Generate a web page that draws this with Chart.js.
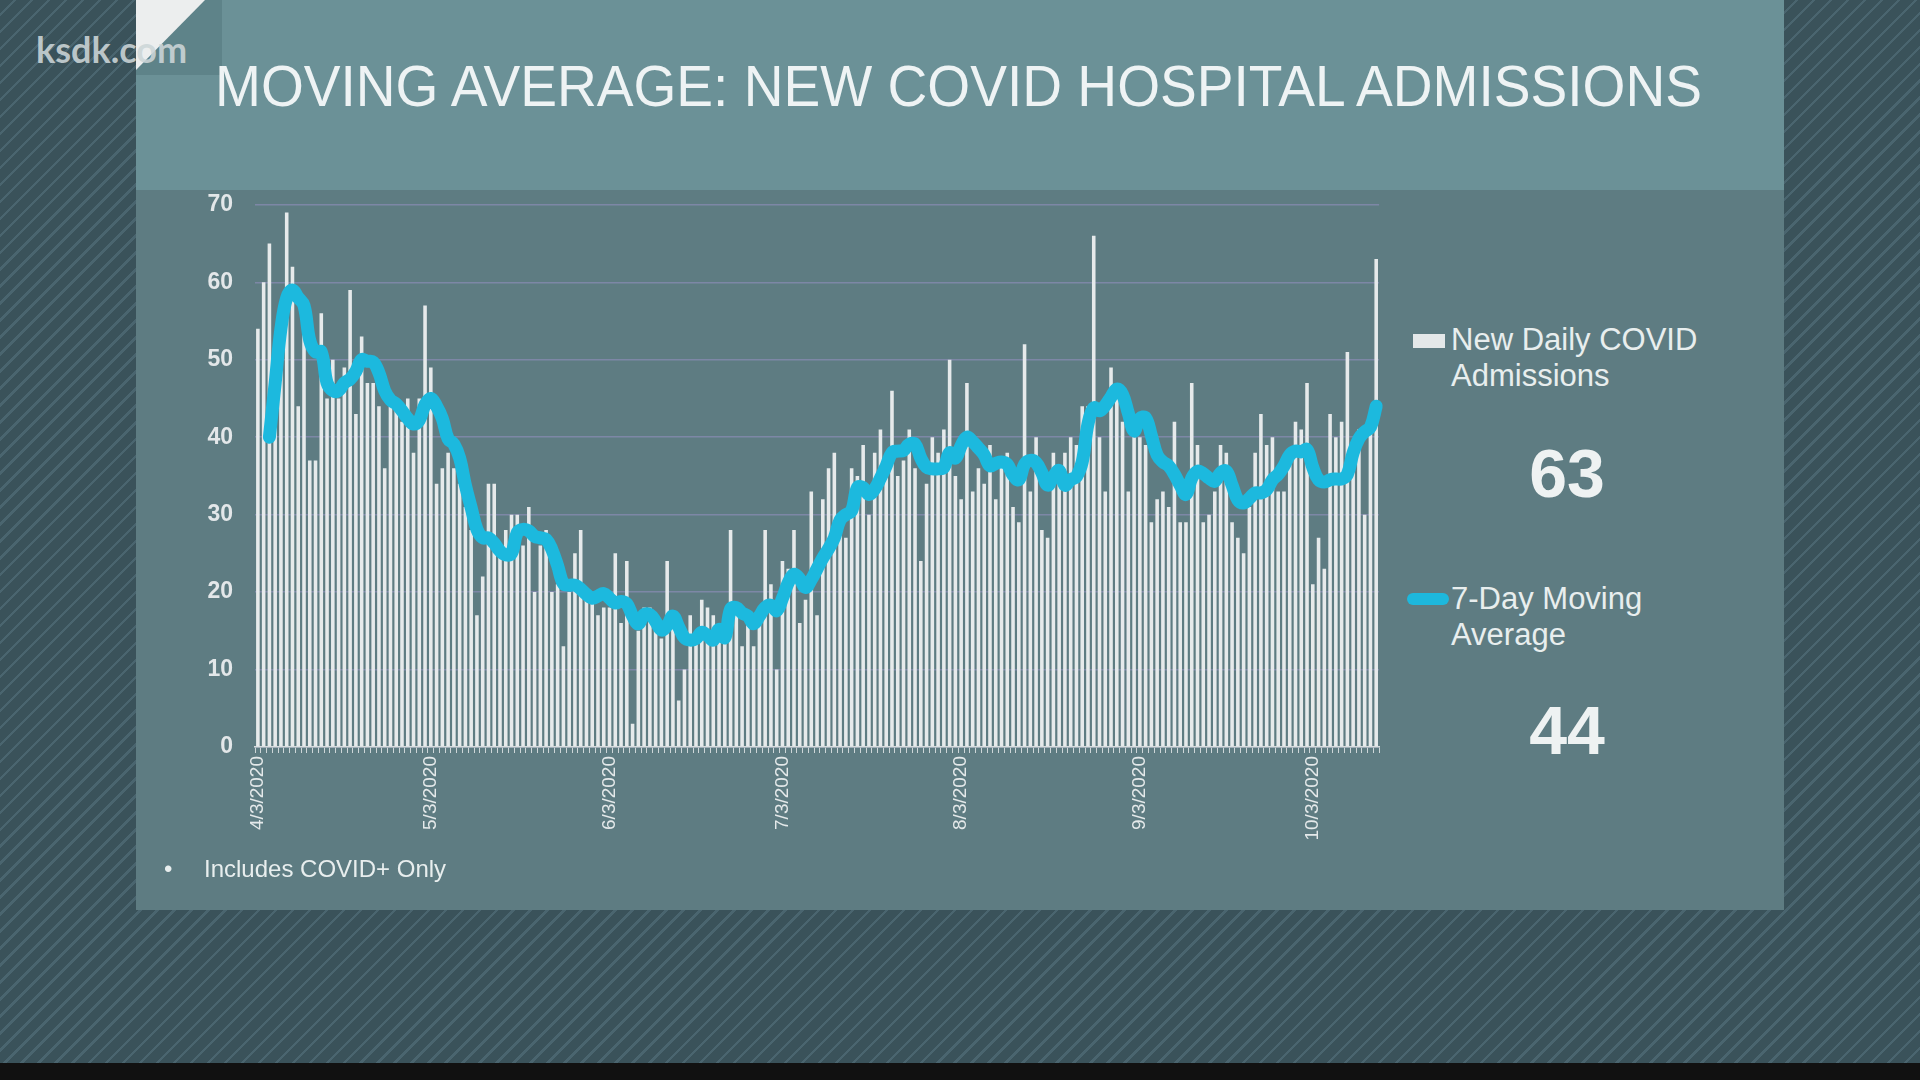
<!DOCTYPE html>
<html>
<head>
<meta charset="utf-8">
<title>Moving Average: New COVID Hospital Admissions</title>
<script src="https://cdn.jsdelivr.net/npm/chart.js@4.4.1/dist/chart.umd.min.js"></script>
<style>
  html, body { margin: 0; padding: 0; }
  body {
    width: 1920px; height: 1080px; overflow: hidden; position: relative;
    font-family: "Liberation Sans", Arial, sans-serif;
    background: repeating-linear-gradient(135deg, #3a525a 0px, #3a525a 9.5px, #4a656f 9.5px, #4a656f 12px);
  }
  .abs { position: absolute; }
  #panel { left: 136px; top: 0; width: 1648px; height: 910px; background: #5e7c82; }
  #band { left: 136px; top: 0; width: 1648px; height: 190px; background: #6b9197; }
  #logoBox { left: 136px; top: 0; width: 86px; height: 75px; background: rgba(40,70,78,0.18); }
  #corner { left: 136px; top: 0; width: 69px; height: 70px; background: #eceeee; clip-path: polygon(0 0, 100% 0, 0 100%); }
  #logo { left: 36px; top: 31px; font-family: Lato, "Open Sans", sans-serif; font-weight: 700; font-size: 36px; line-height: 36px; color: rgba(205,214,216,0.88); }
  #title { left: 215px; top: 57px; font-size: 58px; line-height: 58px; color: #eef3f4; white-space: nowrap; transform: scaleX(0.95); transform-origin: left top; }
  #chart { left: 150px; top: 169px; }
  .swatch { position: absolute; }
  .legText { position: absolute; left: 1451px; font-size: 31px; line-height: 36px; color: #e8eeee; white-space: nowrap; }
  .bigNum { position: absolute; left: 1467px; width: 200px; text-align: center; font-size: 68px; line-height: 68px; font-weight: bold; color: #eef2f2; }
  #note { left: 164px; top: 857px; font-size: 24px; line-height: 24px; color: #e8eeee; white-space: nowrap; }
  #note span { display: inline-block; width: 40px; }
  #bottomBar { left: 0; top: 1063px; width: 1920px; height: 17px; background: #111; }
</style>
</head>
<body>
<div id="panel" class="abs"></div>
<div id="band" class="abs"></div>
<div id="logoBox" class="abs"></div>
<div id="corner" class="abs"></div>
<div id="logo" class="abs">ksdk.com</div>
<div id="title" class="abs">MOVING AVERAGE: NEW COVID HOSPITAL ADMISSIONS</div>
<canvas id="chart" class="abs" width="1252" height="701"></canvas>

<div class="swatch" style="left:1413px;top:334px;width:32px;height:14px;background:#e4e8e9;"></div>
<div class="legText" style="top:322px;">New Daily COVID<br>Admissions</div>
<div class="bigNum" id="lastDaily" style="top:439px;"></div>
<div class="swatch" style="left:1407px;top:593px;width:42px;height:12px;border-radius:6px;background:#1db8dd;"></div>
<div class="legText" style="top:581px;">7-Day Moving<br>Average</div>
<div class="bigNum" id="lastAvg" style="top:696px;"></div>

<div id="note" class="abs"><span>&bull;</span>Includes COVID+ Only</div>
<div id="bottomBar" class="abs"></div>

<script>
// daily values, one per day starting 4/3/2020
const dailyAdmissions = [
  54, 60, 65, 50, 52, 69, 62, 44, 57, 37,
  37, 56, 45, 50, 45, 49, 59, 43, 53, 47,
  47, 44, 36, 44, 44, 42, 45, 38, 45, 57,
  49, 34, 36, 38, 36, 34, 31, 28, 17, 22,
  34, 34, 25, 28, 30, 30, 26, 31, 20, 26,
  28, 20, 21, 13, 20, 25, 28, 20, 19, 17,
  18, 18, 25, 16, 24, 3, 15, 18, 18, 15,
  14, 24, 16, 6, 10, 17, 14, 19, 18, 17,
  15, 14, 28, 18, 13, 17, 13, 18, 28, 21,
  10, 24, 23, 28, 16, 19, 33, 17, 32, 36,
  38, 30, 27, 36, 35, 39, 30, 38, 41, 35,
  46, 35, 37, 41, 36, 24, 34, 40, 38, 41,
  50, 35, 32, 47, 33, 36, 34, 39, 32, 37,
  38, 31, 29, 52, 33, 40, 28, 27, 38, 36,
  38, 40, 39, 44, 44, 66, 40, 33, 49, 45,
  42, 33, 40, 40, 39, 29, 32, 33, 31, 42,
  29, 29, 47, 39, 29, 30, 33, 39, 38, 29,
  27, 25, 31, 38, 43, 39, 40, 33, 33, 38,
  42, 41, 47, 21, 27, 23, 43, 40, 42, 51,
  39, 41, 30, 41, 63
];

const movingAverage = [
  null, null, 40, 47, 54, 58, 59, 58, 57, 52.5,
  51, 51, 47, 46, 46, 47, 47.5, 48.5, 50, 49.8,
  49.7, 48.3, 46, 44.8, 44.3, 43.4, 42.4, 41.7, 42.2, 44.2,
  45, 44, 42.4, 39.8, 39.1, 37.3, 33.8, 30.9, 28.1, 27,
  27, 26.3, 25.3, 24.8, 25, 27.7, 28.1, 27.9, 27.2, 27,
  26.8, 25.5, 23.4, 21.1, 20.9, 20.9, 20.4, 19.7, 19.2, 19.5,
  19.8, 19.2, 18.6, 18.8, 18.5, 16.9, 15.9, 17.1, 17.1, 16.2,
  15.1, 15.7, 16.9, 15.5, 14.1, 13.8, 14, 14.8, 14.4, 13.8,
  15.2, 14.1, 17.8, 18, 17.3, 16.9, 15.9, 16.9, 18, 18.3,
  17.6, 19.2, 21.2, 22.3, 21.7, 20.6, 21.6, 23, 24.4, 25.6,
  27, 29.3, 30, 30.5, 33.5, 33.5, 32.6, 33.3, 34.7, 36.3,
  38, 38.2, 38.3, 39.1, 39.1, 37.3, 36.1, 35.9, 35.9, 36.1,
  38, 37.3, 38.9, 40, 39.4, 38.6, 37.7, 36.3, 36.6, 36.8,
  36.5, 35.1, 34.5, 36.5, 37, 36.7, 35.4, 33.8, 34.9, 35.7,
  33.8, 34.5, 34.9, 36.8, 41.7, 43.8, 43.4, 44.1, 45.2, 46.2,
  45.5, 43.1, 40.8, 42.4, 42.5, 40.2, 37.7, 36.8, 36.3, 35.2,
  33.8, 32.6, 34.7, 35.6, 35.3, 34.7, 34.3, 35.4, 35.6, 33.8,
  31.9, 31.5, 32.1, 32.8, 32.8, 33.2, 34.5, 35.2, 36.3, 37.7,
  38.2, 38.1, 38.4, 36.1, 34.5, 34.2, 34.5, 34.6, 34.6, 35.2,
  38, 39.8, 40.7, 41.3, 44
];

const tickDates = ['4/3/2020', '5/3/2020', '6/3/2020', '7/3/2020', '8/3/2020', '9/3/2020', '10/3/2020'];

// one category per day
let dates = [];
for (let i = 0; i < dailyAdmissions.length; i++) {
  let d = new Date(Date.UTC(2020, 3, 3 + i));
  dates.push((d.getUTCMonth() + 1) + '/' + d.getUTCDate() + '/' + d.getUTCFullYear());
}

document.getElementById('lastDaily').textContent = dailyAdmissions[dailyAdmissions.length - 1];
document.getElementById('lastAvg').textContent = Math.round(movingAverage[movingAverage.length - 1]);

let ctx = document.getElementById('chart');
let myChart = new Chart(ctx, {
  type: 'bar',
  data: {
    labels: dates,
    datasets: [
      {
        type: 'line',
        label: '7-Day Moving Average',
        data: movingAverage,
        borderColor: '#1cb9de',
        borderWidth: 13,
        tension: 0.4,
        pointRadius: 0,
        borderCapStyle: 'round',
        borderJoinStyle: 'round',
        order: 0
      },
      {
        type: 'bar',
        label: 'New Daily COVID Admissions',
        data: dailyAdmissions,
        backgroundColor: '#e6eaeb',
        barPercentage: 0.62,
        categoryPercentage: 1,
        order: 1
      }
    ]
  },
  options: {
    responsive: false,
    animation: false,
    layout: { padding: { top: 12, right: 0, left: 0, bottom: 0 } },
    plugins: {
      legend: { display: false },
      tooltip: { enabled: false }
    },
    scales: {
      x: {
        grid: { drawOnChartArea: false, tickLength: 6, color: '#cdd6d8', offset: true },
        border: { color: '#d6dcde', width: 1.5 },
        ticks: {
          autoSkip: false,
          minRotation: 90,
          maxRotation: 90,
          padding: 3,
          color: '#e4e9ea',
          font: { family: 'Liberation Sans', size: 19 },
          callback: function(value) {
            let label = this.getLabelForValue(value);
            return tickDates.includes(label) ? label : '';
          }
        },
        afterFit: function(scale) { scale.height = 123; }
      },
      y: {
        min: 0,
        max: 70,
        ticks: {
          stepSize: 10,
          padding: 22,
          color: '#e3e7e9',
          font: { family: 'Liberation Sans', size: 23, weight: 'bold' }
        },
        grid: { color: '#7d87a6', lineWidth: 1.5, drawTicks: false },
        border: { display: false },
        afterFit: function(scale) { scale.width = 105; }
      }
    }
  }
});
</script>
</body>
</html>
